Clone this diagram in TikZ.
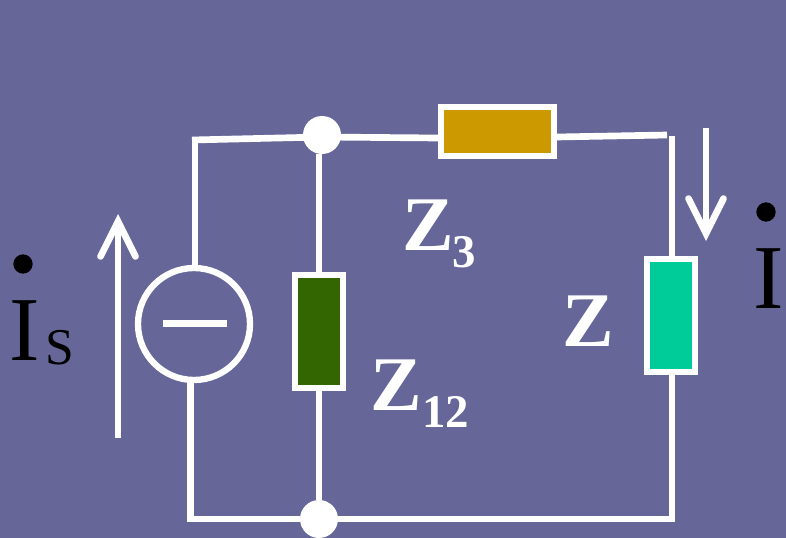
\documentclass[tikz,border=0pt]{standalone}
\usepackage{fontspec}
\setmainfont{Liberation Serif}
\usetikzlibrary{arrows.meta,positioning}
\definecolor{slatebg}{RGB}{102,102,153}
\definecolor{zgreen}{RGB}{51,102,0}
\definecolor{zgold}{RGB}{204,153,0}
\definecolor{zteal}{RGB}{0,204,153}
\tikzset{
    wire/.style={draw=white, line width=0.2cm},
    joint/.style={circle, fill=white, inner sep=0pt, minimum size=1.14cm},
    imped/.style={rectangle, draw=white, line width=0.19cm, inner sep=0pt},
    currentarrow/.style={draw=white, line width=0.2cm, -{Straight Barb[length=1.05cm,width=1.05cm,line cap=round]}},
    zlabel/.style={anchor=base west, inner sep=0pt, text=white, font=\fontsize{66}{66}\selectfont\bfseries},
    zsub/.style={anchor=base west, inner sep=0pt, text=white, font=\fontsize{40}{40}\selectfont\bfseries},
    ilabel/.style={anchor=base west, inner sep=0pt, text=black, font=\fontsize{78}{78}\selectfont},
    idot/.style={circle, fill=black, inner sep=0pt, minimum size=0.58cm}
}
\begin{document}
\begin{tikzpicture}[x=0.03cm, y=-0.03cm]
    % Background
    \fill[slatebg] (0,0) rectangle (786,538);
    \useasboundingbox (0,0) rectangle (786,538);

    % Corners and arrow ends
    \coordinate (cornerTL) at (192,140);
    \coordinate (cornerTR) at (667,135);
    \coordinate (rightTop) at (672,136);
    \coordinate (rightBot) at (672,522);
    \coordinate (leftBot) at (190.5,522);
    \coordinate (botL) at (187,519);
    \coordinate (srcTop) at (195,137);
    \coordinate (arrowSa) at (118,438);
    \coordinate (arrowSb) at (118,214);
    \coordinate (arrowIa) at (706,128);
    \coordinate (arrowIb) at (706,241);
    \coordinate (topA) at (322,137);
    \coordinate (topB) at (438,138);
    \coordinate (topC) at (557,137);

    % Nodes
    \node[joint] (jtop) at (322,135) {};
    \node[joint] (jbot) at (319,519) {};
    \node[circle, draw=white, line width=0.19cm, inner sep=0pt, minimum size=3.36cm] (source) at (194,324) {};
    \node[imped, fill=zgreen, minimum width=1.43cm, minimum height=3.38cm] (ztwelve) at (319,331.5) {};
    \node[imped, fill=zgold, minimum width=3.38cm, minimum height=1.46cm] (zthree) at (497.5,131.5) {};
    \node[imped, fill=zteal, minimum width=1.43cm, minimum height=3.38cm] (zload) at (671,315.5) {};

    % Wires
    \draw[wire] (cornerTL) -- (topA);
    \draw[wire] (topA) -- (topB);
    \draw[wire] (topC) -- (cornerTR);
    \draw[wire] (srcTop) -- (source.north -| srcTop);
    \draw[wire] (leftBot) -- (source.south -| leftBot);
    \draw[wire] (jtop.south -| jbot) -- (ztwelve.north -| jbot);
    \draw[wire] (ztwelve) -- (jbot);
    \draw[wire] (rightTop) -- (zload.north -| rightTop);
    \draw[wire] (zload.south -| rightTop) -- (rightBot);
    \draw[wire] (botL) -- (jbot);
    \draw[wire] (jbot) -- (rightBot |- jbot);

    % Minus sign
    \coordinate (minusL) at (163,323);
    \coordinate (minusR) at (227,323);
    \draw[draw=white, line width=0.21cm] (minusL) -- (minusR);

    % Current arrows
    \draw[currentarrow] (arrowSa) -- (arrowSb);
    \draw[currentarrow] (arrowIa) -- (arrowIb);

    % Labels
    \node[zlabel] (zthreetxt) at (402,250) {Z};
    \node[zsub] (zthreesub) at (452,267) {3};
    \node[zlabel] (ztwelvetxt) at (370,410) {Z};
    \node[zsub] (ztwelvesub) at (422,427) {12};
    \node[zlabel] (zloadtxt) at (562,346) {Z};

    \node[idot] (dotS) at (23,264) {};
    \node[ilabel] (iS) at (9,360) {I};
    \node[anchor=base west, inner sep=0pt, text=black, font=\fontsize{44}{44}\selectfont] (iSsub) at (45,364) {S};
    \node[idot] (dotI) at (766,212) {};
    \node[ilabel] (iI) at (753,308) {I};
\end{tikzpicture}
\end{document}
